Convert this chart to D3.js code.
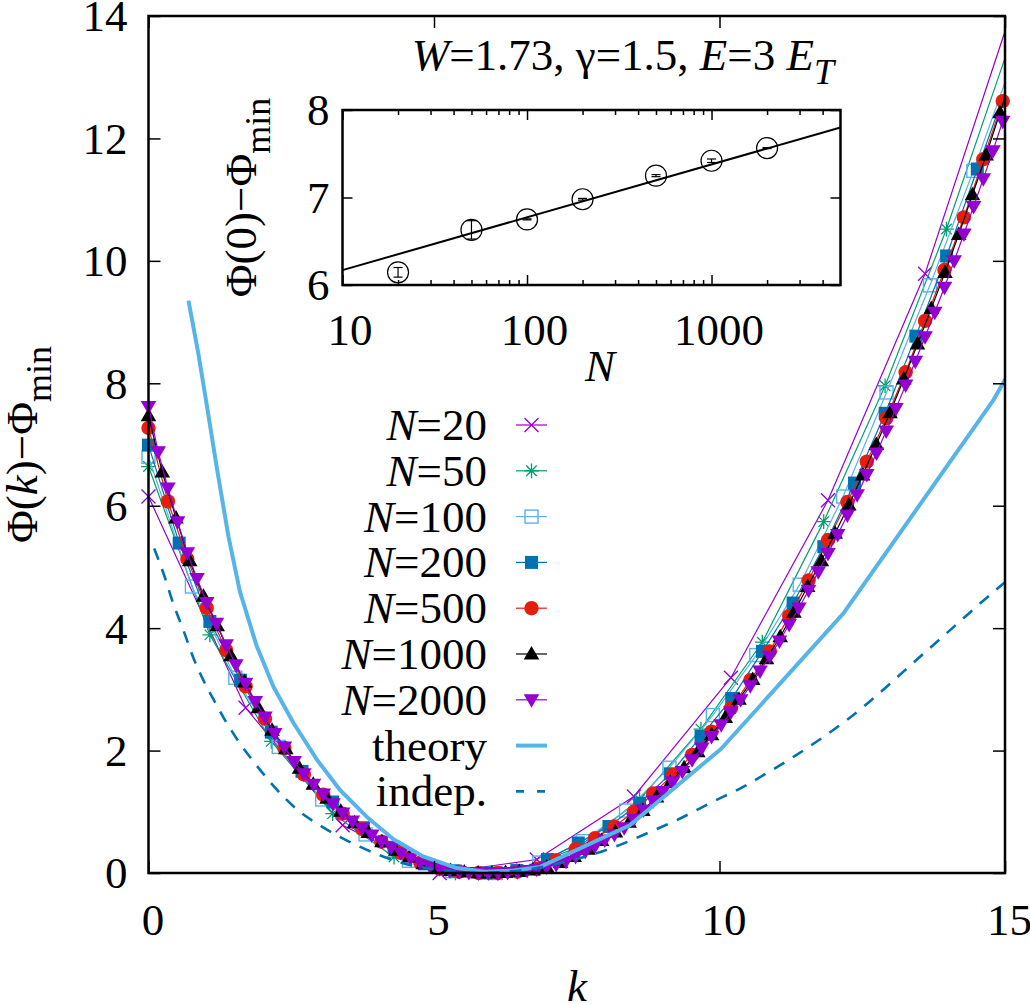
<!DOCTYPE html>
<html><head><meta charset="utf-8">
<script src="https://cdn.jsdelivr.net/npm/d3@7"></script>
<style>
body{margin:0;background:#fff}
svg text{font-family:"Liberation Serif","Times New Roman",Times,"DejaVu Serif",serif;fill:#000}
</style>
</head><body>
<svg id="c" width="1030" height="1004"></svg>
<script>
// ---------------- data ----------------
const seriesN = [20, 50, 100, 200, 500, 1000, 2000];
// k spacing of each series' grid (k = index * step)
const kStep = [1.70, 1.075, 0.7603, 0.5376, 0.34, 0.2405, 0.170];

const phiN20 = [6.15, 2.70, 0.78, 0.00, 0.22, 1.25, 3.19, 6.09, 9.79, 14.60];
const phiN50 = [6.64, 3.89, 2.15, 0.97, 0.26, 0.00, 0.04, 0.42, 1.20, 2.35, 3.77, 5.74, 7.96, 10.52, 13.45];
const phiN100 = [6.80, 4.68, 3.19, 2.06, 1.20, 0.63, 0.20, 0.03, 0.00, 0.17, 0.52, 1.02, 1.72, 2.58, 3.56, 4.71, 6.15, 7.85, 9.60, 11.47, 13.45];
const phiN200 = [6.99, 5.39, 4.11, 3.15, 2.30, 1.66, 1.16, 0.74, 0.42, 0.15, 0.03, 0.00, 0.04, 0.22, 0.49, 0.76, 1.14, 1.62, 2.23, 2.85, 3.62, 4.41, 5.33, 6.37, 7.51, 8.77, 10.08, 11.50, 12.90];
const phiN500 = [7.27, 6.07, 5.13, 4.33, 3.64, 3.05, 2.52, 2.04, 1.61, 1.28, 0.97, 0.72, 0.51, 0.33, 0.17, 0.07, 0.02, 0.00, 0.00, 0.02, 0.07, 0.21, 0.39, 0.57, 0.76, 1.00, 1.30, 1.60, 1.93, 2.31, 2.69, 3.15, 3.62, 4.20, 4.78, 5.44, 6.06, 6.72, 7.43, 8.18, 9.02, 9.85, 10.71, 11.66, 12.61];
const phiN1000 = [7.47, 6.55, 5.80, 5.10, 4.52, 4.04, 3.55, 3.12, 2.70, 2.33,
  2.03, 1.71, 1.45, 1.22, 1.01, 0.82, 0.66, 0.51, 0.37, 0.26,
  0.15, 0.08, 0.04, 0.015, 0.00, 0.00, 0.01, 0.025, 0.05, 0.10,
  0.17, 0.27, 0.39, 0.53, 0.67, 0.83, 1.02, 1.24, 1.48, 1.72,
  1.98, 2.26, 2.54, 2.84, 3.16, 3.50, 3.86, 4.26, 4.68, 5.10,
  5.55, 6.01, 6.50, 7.00, 7.52, 8.07, 8.64, 9.22, 9.81, 10.43,
  11.08, 11.73, 12.42, 13.10];
const phiN2000 = [7.62, 6.88, 6.29, 5.74, 5.23, 4.81, 4.42, 4.08, 3.73, 3.40,
  3.10, 2.80, 2.55, 2.28, 2.06, 1.82, 1.62, 1.45, 1.29, 1.13,
  0.98, 0.85, 0.73, 0.62, 0.52, 0.42, 0.33, 0.24, 0.17, 0.11,
  0.07, 0.04, 0.02, 0.01, 0.00, 0.00, 0.00, 0.01, 0.02, 0.04,
  0.06, 0.10, 0.14, 0.19, 0.27, 0.35, 0.44, 0.54, 0.63, 0.74,
  0.88, 1.03, 1.18, 1.33, 1.49, 1.66, 1.85, 2.04, 2.23, 2.42,
  2.63, 2.83, 3.06, 3.30, 3.54, 3.79, 4.06, 4.33, 4.62, 4.92,
  5.22, 5.53, 5.85, 6.18, 6.51, 6.86, 7.22, 7.59, 7.97, 8.36,
  8.76, 9.16, 9.57, 10.00, 10.44, 10.89, 11.34, 11.80, 12.28];

const theoryK = [0.70, 0.87, 1.02, 1.20, 1.40, 1.60, 1.89, 2.19, 2.54, 2.95, 3.35, 3.82, 4.29, 4.81, 5.40, 5.90, 6.40, 6.86, 8.43, 10.03, 12.17, 14.80, 15.30];
const theoryPhi = [9.35, 8.50, 7.65, 6.60, 5.50, 4.60, 3.72, 3.04, 2.45, 1.85, 1.36, 0.92, 0.55, 0.27, 0.08, 0.02, 0.04, 0.10, 0.78, 2.03, 4.24, 7.73, 8.55];

const indepK = [0.10, 0.29, 0.43, 0.61, 0.78, 0.96, 1.16, 1.37, 1.60, 1.84, 2.10, 2.36, 2.65, 3.00, 3.35, 3.70, 4.05, 4.46, 4.87, 5.30, 5.80, 6.30, 6.80, 7.20, 7.73, 8.26, 8.78, 9.31, 9.83, 10.36, 10.88, 11.35, 12.23, 13.69, 14.91, 15.00];
const indepPhi = [5.30, 4.82, 4.41, 3.97, 3.53, 3.15, 2.80, 2.45, 2.12, 1.82, 1.52, 1.25, 1.00, 0.78, 0.59, 0.43, 0.29, 0.16, 0.08, 0.03, 0.00, 0.02, 0.08, 0.16, 0.29, 0.46, 0.67, 0.89, 1.14, 1.38, 1.66, 1.93, 2.50, 3.68, 4.68, 4.75];

const insetN = [20, 50, 100, 200, 500, 1000, 2000];
const insetPhi0 = [6.145, 6.63, 6.75, 6.98, 7.25, 7.42, 7.565];
const insetErr = [0.055, 0.105, 0.006, 0.010, 0.012, 0.020, 0.006];
const fitN = [10, 5000];
const fitPhi0 = [6.17, 7.80];

const mainXTicks = [0, 5, 10, 15];
const mainYTicks = [0, 2, 4, 6, 8, 10, 12, 14];
const insetXTicks = [10, 100, 1000];
const insetXMinor = [20, 30, 40, 50, 60, 70, 80, 90, 200, 300, 400, 500, 600, 700, 800, 900, 2000, 3000, 4000];
const insetYTicks = [6, 7, 8];
const legendLabels = ["20", "50", "100", "200", "500", "1000", "2000"];

// ---------------- styles ----------------
const colors = ["#9400d3", "#009e73", "#56b4e9", "#0072b2", "#e51e10", "#000000", "#9400d3"];
const markers = ["cross", "star", "osquare", "fsquare", "fcircle", "tri_up", "tri_down"];
const seriesVals = [phiN20, phiN50, phiN100, phiN200, phiN500, phiN1000, phiN2000];

const FS = 45;
const FONT = '"Liberation Serif","Times New Roman",Times,"DejaVu Serif",serif';
const svg = d3.select("#c");
const L = 148.5, R = 1005, T = 16, B = 873;
const x = d3.scaleLinear().domain([0, 15]).range([L, R]);
const y = d3.scaleLinear().domain([0, 14]).range([B, T]);

svg.append("defs").append("clipPath").attr("id", "clipMain")
  .append("rect").attr("x", L).attr("y", T).attr("width", R - L).attr("height", B - T);

function drawMarker(g, type, cx, cy, color) {
  const s = 7;
  if (type === "cross") {
    g.append("path").attr("d", `M${cx-s},${cy-s}L${cx+s},${cy+s}M${cx-s},${cy+s}L${cx+s},${cy-s}`)
      .attr("stroke", color).attr("stroke-width", 1.3).attr("fill", "none");
  } else if (type === "star") {
    const d = s * 0.75, p = s * 1.05;
    g.append("path").attr("d", `M${cx-d},${cy-d}L${cx+d},${cy+d}M${cx-d},${cy+d}L${cx+d},${cy-d}M${cx-p},${cy}L${cx+p},${cy}M${cx},${cy-p}L${cx},${cy+p}`)
      .attr("stroke", color).attr("stroke-width", 1.3).attr("fill", "none");
  } else if (type === "osquare") {
    g.append("rect").attr("x", cx - 6.5).attr("y", cy - 6.5).attr("width", 13).attr("height", 13)
      .attr("stroke", color).attr("stroke-width", 1.4).attr("fill", "none");
  } else if (type === "fsquare") {
    g.append("rect").attr("x", cx - 6.5).attr("y", cy - 6.5).attr("width", 13).attr("height", 13)
      .attr("fill", color);
  } else if (type === "fcircle") {
    g.append("circle").attr("cx", cx).attr("cy", cy).attr("r", 7.2).attr("fill", color);
  } else if (type === "tri_up") {
    g.append("path").attr("d", `M${cx},${cy-8}L${cx+7.8},${cy+5.5}L${cx-7.8},${cy+5.5}Z`).attr("fill", color);
  } else if (type === "tri_down") {
    g.append("path").attr("d", `M${cx},${cy+8}L${cx+7.8},${cy-5.5}L${cx-7.8},${cy-5.5}Z`).attr("fill", color);
  }
}

// ---------------- main data ----------------
const dataG = svg.append("g");
seriesN.forEach((n, si) => {
  const pts = seriesVals[si].map((v, i) => ({ k: i * kStep[si], v }));
  const line = d3.line().x(d => x(d.k)).y(d => y(d.v));
  dataG.append("path").datum(pts).attr("d", line).attr("clip-path", "url(#clipMain)")
    .attr("fill", "none").attr("stroke", colors[si]).attr("stroke-width", 1.2);
  const mg = dataG.append("g");
  pts.filter(d => d.k <= 15.001 && d.v <= 14).forEach(d => drawMarker(mg, markers[si], x(d.k), y(d.v), colors[si]));
});

const theoryPts = theoryK.map((k, i) => ({ k, v: theoryPhi[i] }));
dataG.append("path").datum(theoryPts)
  .attr("d", d3.line().x(d => x(d.k)).y(d => y(d.v)))
  .attr("clip-path", "url(#clipMain)").attr("fill", "none")
  .attr("stroke", "#56b4e9").attr("stroke-width", 4).attr("stroke-linejoin", "round");

const indepPts = indepK.map((k, i) => ({ k, v: indepPhi[i] }));
dataG.append("path").datum(indepPts)
  .attr("d", d3.line().curve(d3.curveMonotoneX).x(d => x(d.k)).y(d => y(d.v)))
  .attr("clip-path", "url(#clipMain)").attr("fill", "none")
  .attr("stroke", "#0072b2").attr("stroke-width", 2.6).attr("stroke-dasharray", "12,10");

// ---------------- main axes ----------------
function styleAxis(g) {
  g.select(".domain").remove();
  g.selectAll(".tick line").attr("stroke", "#000").attr("stroke-width", 1.5);
  g.selectAll("text").attr("font-size", FS).style("font-family", FONT).attr("fill", "#000");
  g.attr("font-family", null).attr("font-size", null);
}
const gxb = svg.append("g").attr("transform", `translate(0,${B})`)
  .call(d3.axisBottom(x).tickValues(mainXTicks).tickSize(-12).tickPadding(30).tickFormat(d3.format("d")));
styleAxis(gxb); gxb.selectAll("text").attr("dx", 4);
const gxt = svg.append("g").attr("transform", `translate(0,${T})`)
  .call(d3.axisTop(x).tickValues(mainXTicks).tickSize(-12).tickFormat(""));
styleAxis(gxt);
const gyl = svg.append("g").attr("transform", `translate(${L},0)`)
  .call(d3.axisLeft(y).tickValues(mainYTicks).tickSize(-12).tickPadding(21).tickFormat(d3.format("d")));
styleAxis(gyl); gyl.selectAll("text").attr("dy", "0.33em");
const gyr = svg.append("g").attr("transform", `translate(${R},0)`)
  .call(d3.axisRight(y).tickValues(mainYTicks).tickSize(-12).tickFormat(""));
styleAxis(gyr);

svg.append("rect").attr("x", L).attr("y", T).attr("width", R - L).attr("height", B - T)
  .attr("fill", "none").attr("stroke", "#000").attr("stroke-width", 2.5);

// rich text helper
function mkText(parent) {
  return parent.append("text").style("font-family", FONT).attr("font-size", FS);
}
function rich(t, parts, fs) {
  let shifted = 0;
  parts.forEach(p => {
    const s = t.append("tspan").text(p.t);
    if (p.i) s.attr("font-style", "italic");
    if (p.sub) {
      s.attr("font-size", fs * 0.8);
      if (!shifted) { s.attr("dy", fs * 0.32); shifted = 1; }
    } else if (shifted) {
      s.attr("dy", -fs * 0.32); shifted = 0;
    }
  });
}

// axis labels
rich(mkText(svg).attr("x", 577).attr("y", 1001).attr("text-anchor", "middle"),
  [{ t: "k", i: true }], FS);
rich(mkText(svg).attr("transform", "translate(37,444.5) rotate(-90)").attr("text-anchor", "middle"),
  [{ t: "Φ(" }, { t: "k", i: true }, { t: ")−Φ" }, { t: "min", sub: true }], FS);

// title
rich(mkText(svg).attr("x", 834).attr("y", 70).attr("text-anchor", "end"),
  [{ t: "W", i: true }, { t: "=1.73, γ=1.5, " }, { t: "E", i: true }, { t: "=3 " }, { t: "E", i: true }, { t: "T", i: true, sub: true }], FS);

// ---------------- legend ----------------
const legY0 = 425, legDY = 45.8, legTx = 487, legL1 = 516, legL2 = 547;
const lg = svg.append("g");
seriesN.forEach((n, si) => {
  const yy = legY0 + si * legDY;
  rich(mkText(lg).attr("x", legTx).attr("y", yy + 15).attr("text-anchor", "end"),
    [{ t: "N", i: true }, { t: "=" + legendLabels[si] }], FS);
  lg.append("line").attr("x1", legL1).attr("x2", legL2).attr("y1", yy).attr("y2", yy)
    .attr("stroke", colors[si]).attr("stroke-width", 1.2);
  drawMarker(lg, markers[si], (legL1 + legL2) / 2, yy, colors[si]);
});
{
  const yy = legY0 + 7 * legDY;
  mkText(lg).attr("x", legTx).attr("y", yy + 15).attr("text-anchor", "end").text("theory");
  lg.append("line").attr("x1", legL1).attr("x2", legL2).attr("y1", yy).attr("y2", yy)
    .attr("stroke", "#56b4e9").attr("stroke-width", 4);
  const y2 = legY0 + 8 * legDY;
  mkText(lg).attr("x", legTx).attr("y", y2 + 15).attr("text-anchor", "end").text("indep.");
  lg.append("line").attr("x1", legL1).attr("x2", legL2).attr("y1", y2).attr("y2", y2)
    .attr("stroke", "#0072b2").attr("stroke-width", 2.6).attr("stroke-dasharray", "8,13");
}

// ---------------- inset ----------------
const iL = 342.5, iR = 840.5, iT = 110, iB = 285;
const ix = d3.scaleLog().domain([10, 5000]).range([iL, iR]);
const iy = d3.scaleLinear().domain([6, 8]).range([iB, iT]);
svg.append("rect").attr("x", iL).attr("y", iT).attr("width", iR - iL).attr("height", iB - iT).attr("fill", "#fff");
svg.append("defs").append("clipPath").attr("id", "clipInset")
  .append("rect").attr("x", iL).attr("y", iT).attr("width", iR - iL).attr("height", iB - iT);

const ig = svg.append("g");
const ixb = ig.append("g").attr("transform", `translate(0,${iB})`)
  .call(d3.axisBottom(ix).tickValues(insetXTicks).tickSize(-10).tickPadding(28).tickFormat(d3.format("d")));
styleAxis(ixb); ixb.selectAll("text").attr("dx", 7);
const ixbm = ig.append("g").attr("transform", `translate(0,${iB})`)
  .call(d3.axisBottom(ix).tickValues(insetXMinor).tickSize(-5).tickFormat(""));
styleAxis(ixbm);
const ixt = ig.append("g").attr("transform", `translate(0,${iT})`)
  .call(d3.axisTop(ix).tickValues(insetXTicks).tickSize(-10).tickFormat(""));
styleAxis(ixt);
const ixtm = ig.append("g").attr("transform", `translate(0,${iT})`)
  .call(d3.axisTop(ix).tickValues(insetXMinor).tickSize(-5).tickFormat(""));
styleAxis(ixtm);
const iyl = ig.append("g").attr("transform", `translate(${iL},0)`)
  .call(d3.axisLeft(iy).tickValues(insetYTicks).tickSize(-10).tickPadding(13).tickFormat(d3.format("d")));
styleAxis(iyl); iyl.selectAll("text").attr("dy", "0.33em");
const iyr = ig.append("g").attr("transform", `translate(${iR},0)`)
  .call(d3.axisRight(iy).tickValues(insetYTicks).tickSize(-10).tickFormat(""));
styleAxis(iyr);

// fit line
ig.append("path").datum(fitN.map((n, i) => ({ n, v: fitPhi0[i] })))
  .attr("d", d3.line().x(d => ix(d.n)).y(d => iy(d.v)))
  .attr("clip-path", "url(#clipInset)").attr("fill", "none").attr("stroke", "#000").attr("stroke-width", 2);

// points with error bars
insetN.forEach((n, i) => {
  const cx = ix(n), cy = iy(insetPhi0[i]);
  const y1 = iy(insetPhi0[i] - insetErr[i]), y2 = iy(insetPhi0[i] + insetErr[i]);
  ig.append("line").attr("x1", cx).attr("x2", cx).attr("y1", y1).attr("y2", y2).attr("stroke", "#000").attr("stroke-width", 1.2);
  ig.append("line").attr("x1", cx - 4.5).attr("x2", cx + 4.5).attr("y1", y1).attr("y2", y1).attr("stroke", "#000").attr("stroke-width", 1.2);
  ig.append("line").attr("x1", cx - 4.5).attr("x2", cx + 4.5).attr("y1", y2).attr("y2", y2).attr("stroke", "#000").attr("stroke-width", 1.2);
  ig.append("circle").attr("cx", cx).attr("cy", cy).attr("r", 10.5).attr("fill", "none").attr("stroke", "#000").attr("stroke-width", 1.2);
});

ig.append("rect").attr("x", iL).attr("y", iT).attr("width", iR - iL).attr("height", iB - iT)
  .attr("fill", "none").attr("stroke", "#000").attr("stroke-width", 2.5);

rich(mkText(ig).attr("x", 600).attr("y", 381).attr("text-anchor", "middle"),
  [{ t: "N", i: true }], FS);
rich(mkText(ig).attr("transform", "translate(256,197.5) rotate(-90)").attr("text-anchor", "middle"),
  [{ t: "Φ(0)−Φ" }, { t: "min", sub: true }], FS);
</script>
</body></html>
